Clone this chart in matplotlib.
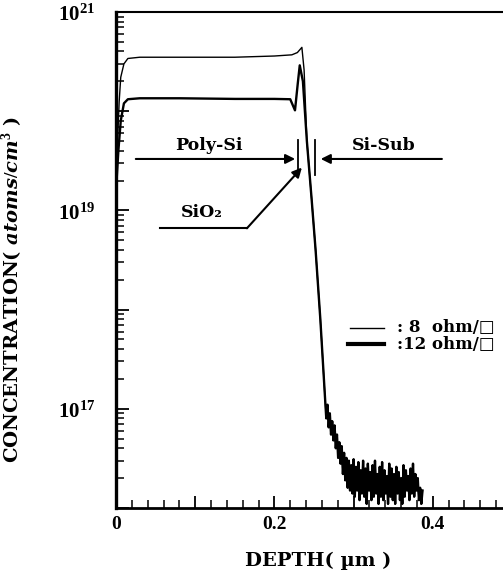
import matplotlib
matplotlib.use('Agg')
import matplotlib.pyplot as plt
from matplotlib.ticker import FixedLocator, LogLocator, NullFormatter, MultipleLocator

plt.rcParams['font.family'] = ['DejaVu Serif']
plt.rcParams['font.weight'] = 'bold'
plt.rcParams['mathtext.fontset'] = 'custom'
plt.rcParams['mathtext.rm'] = 'Liberation Serif:bold'
plt.rcParams['mathtext.it'] = 'DejaVu Serif:italic:bold'
plt.rcParams['mathtext.bf'] = 'Liberation Serif:bold'

# 8 ohm/sq (thin line) profile
depth_8 = [0.0, 0.002, 0.004, 0.006, 0.010, 0.015, 0.030, 0.08, 0.15, 0.20, 0.222,
           0.229, 0.2347, 0.2375, 0.241, 0.247, 0.252, 0.258, 0.264]
conc_8 = [2.0e19, 5.0e19, 1.25e20, 2.2e20, 3.0e20, 3.4e20, 3.5e20, 3.5e20, 3.5e20, 3.6e20, 3.7e20,
          3.9e20, 4.4e20, 2.6e20, 5.0e19, 1.3e19, 4.0e18, 8.0e17, 1.26e17]

# 12 ohm/sq (thick line) profile
depth_12 = [0.0, 0.003, 0.006, 0.010, 0.015, 0.030, 0.08, 0.15, 0.20, 0.220,
            0.226, 0.2295, 0.232, 0.236, 0.241, 0.247, 0.252, 0.258, 0.264]
conc_12 = [1.6e19, 4.0e19, 8.0e19, 1.2e20, 1.32e20, 1.35e20, 1.35e20, 1.33e20, 1.33e20, 1.32e20,
           1.02e20, 1.9e20, 2.9e20, 2.0e20, 5.0e19, 1.3e19, 4.0e18, 8.0e17, 1.26e17]

# noisy tail (background level of the measurement)
tail_depth = [0.2655, 0.267, 0.2685, 0.270, 0.2715, 0.273, 0.2745, 0.276, 0.2775, 0.279,
              0.2805, 0.282, 0.2835, 0.285, 0.2865, 0.288, 0.2895, 0.291, 0.2925, 0.294,
              0.2955, 0.297, 0.2985, 0.300, 0.3015, 0.303, 0.3045, 0.306, 0.3075, 0.309,
              0.3105, 0.312, 0.3135, 0.315, 0.3165, 0.318, 0.3195, 0.321, 0.3225, 0.324,
              0.3255, 0.327, 0.3285, 0.330, 0.3315, 0.333, 0.3345, 0.336, 0.3375, 0.339,
              0.3405, 0.342, 0.3435, 0.345, 0.3465, 0.348, 0.3495, 0.351, 0.3525, 0.354,
              0.3555, 0.357, 0.3585, 0.360, 0.3615, 0.363, 0.3645, 0.366, 0.3675, 0.369,
              0.3705, 0.372, 0.3735, 0.375, 0.3765, 0.378, 0.3795, 0.381, 0.3825, 0.384,
              0.3855, 0.387]
tail_conc = [8.0e16, 1.1e17, 6.5e16, 9.0e16, 5.5e16, 7.5e16, 4.8e16, 6.8e16, 4.0e16, 5.5e16,
             3.2e16, 4.6e16, 2.8e16, 4.2e16, 2.2e16, 3.6e16, 1.9e16, 3.2e16, 1.6e16, 3.0e16,
             1.5e16, 2.7e16, 1.4e16, 3.1e16, 1.3e16, 2.6e16, 1.5e16, 2.9e16, 1.2e16, 2.4e16,
             1.4e16, 3.0e16, 1.3e16, 2.5e16, 1.1e16, 2.8e16, 1.5e16, 2.3e16, 1.2e16, 2.7e16,
             1.3e16, 3.0e16, 1.4e16, 2.2e16, 1.1e16, 2.6e16, 1.3e16, 2.9e16, 1.2e16, 2.4e16,
             1.4e16, 2.1e16, 1.1e16, 2.8e16, 1.3e16, 2.5e16, 1.2e16, 2.2e16, 1.1e16, 2.6e16,
             1.4e16, 2.3e16, 1.2e16, 2.0e16, 1.1e16, 2.7e16, 1.3e16, 2.4e16, 1.5e16, 2.1e16,
             1.2e16, 2.5e16, 1.4e16, 2.8e16, 1.3e16, 2.2e16, 1.5e16, 2.0e16, 1.2e16, 1.6e16,
             1.1e16, 1.5e16]

legend_labels = [': 8  ohm/\u25a1', ':12 ohm/\u25a1']
ytick_vals = [1e16, 1e17, 1e18, 1e19, 1e20, 1e21]
ytick_labels = ['', '$10^{17}$', '', '$10^{19}$', '', '$10^{21}$']
xtick_vals = [0, 0.1, 0.2, 0.3, 0.4]
xtick_labels = ['0', '', '0.2', '', '0.4']

fig = plt.figure(figsize=(5.03, 5.76), dpi=100)
# right side of the frame is cut off in the original scan
ax = fig.add_axes([116 / 503, 68 / 576, 396 / 503, 496 / 576])

ax.plot(depth_8 + tail_depth, conc_8 + tail_conc, color='black', lw=1.0)
ax.plot(depth_12 + tail_depth, conc_12 + tail_conc, color='black', lw=1.7)

ax.set_yscale('log')
ax.set_xlim(0, 0.5)
ax.set_ylim(1e16, 1e21)

ax.yaxis.set_major_locator(FixedLocator(ytick_vals))
ax.set_yticklabels(ytick_labels)
ax.yaxis.set_minor_locator(LogLocator(base=10, subs=range(2, 10), numticks=50))
ax.yaxis.set_minor_formatter(NullFormatter())
ax.xaxis.set_major_locator(FixedLocator(xtick_vals))
ax.set_xticklabels(xtick_labels, fontfamily='Liberation Serif')
ax.xaxis.set_minor_locator(MultipleLocator(0.02))

ax.tick_params(which='both', direction='in', labelsize=14, top=False, right=False)
ax.tick_params(which='major', length=9, width=1.3)
ax.tick_params(which='minor', length=6, width=1.1)
ax.tick_params(axis='y', labelsize=15, pad=15)
ax.tick_params(axis='x', pad=6)

ax.spines['left'].set_linewidth(2.4)
ax.spines['bottom'].set_linewidth(2.0)
ax.spines['top'].set_linewidth(1.5)
ax.spines['right'].set_visible(False)

ax.set_xlabel('DEPTH( \u00b5m )', fontsize=14, fontweight='bold')
ax.xaxis.set_label_coords(0.51, -0.088)
ax.set_ylabel(r'CONCENTRATION( $\mathit{atoms/cm^3}$ )', fontsize=14, fontweight='bold')
ax.yaxis.set_label_coords(-0.232, 0.44)

# layer annotations
ax.text(0.117, 4.5e19, 'Poly-Si', fontsize=12.5, ha='center', va='center')
ax.annotate('', xy=(0.2297, 3.3e19), xytext=(0.0215, 3.3e19),
            arrowprops=dict(arrowstyle='-|>', color='black', lw=1.5, mutation_scale=14))
ax.text(0.338, 4.5e19, 'Si-Sub', fontsize=12.5, ha='center', va='center')
ax.annotate('', xy=(0.255, 3.3e19), xytext=(0.415, 3.3e19),
            arrowprops=dict(arrowstyle='-|>', color='black', lw=1.5, mutation_scale=14))
ax.plot([0.2297, 0.2297], [2.3e19, 5.1e19], color='black', lw=1.3)
ax.plot([0.251, 0.251], [2.3e19, 5.1e19], color='black', lw=1.3)

ax.text(0.1085, 9.6e18, 'SiO\u2082', fontsize=12.5, ha='center', va='center')
ax.plot([0.0555, 0.1653], [6.6e18, 6.6e18], color='black', lw=1.5)
ax.annotate('', xy=(0.2347, 2.7e19), xytext=(0.1653, 6.6e18),
            arrowprops=dict(arrowstyle='-|>', color='black', lw=1.5, mutation_scale=14,
                            shrinkA=0, shrinkB=0))

# hand-made legend
ax.plot([0.2953, 0.339], [6.6e17, 6.6e17], color='black', lw=1.0)
ax.plot([0.2928, 0.339], [4.5e17, 4.5e17], color='black', lw=3.0)
ax.text(0.3546, 6.6e17, legend_labels[0], fontsize=12, va='center')
ax.text(0.3546, 4.5e17, legend_labels[1], fontsize=12, va='center')

fig.savefig('out.png', dpi=100)
plt.close(fig)
